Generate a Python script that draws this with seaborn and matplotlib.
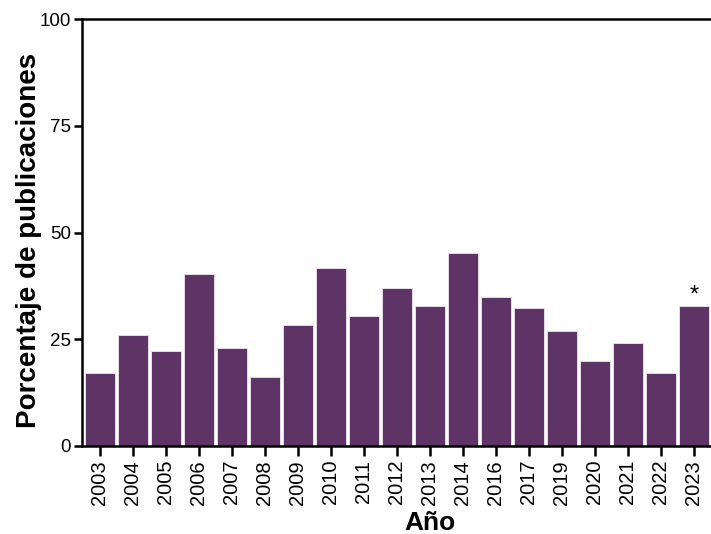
import numpy as np
import pandas as pd
import matplotlib
matplotlib.use('Agg')
import matplotlib.pyplot as plt
import seaborn as sns

years = ['2003', '2004', '2005', '2006', '2007', '2008', '2009', '2010', '2011', '2012',
         '2013', '2014', '2016', '2017', '2019', '2020', '2021', '2022', '2023']
pct = [17.1, 26.1, 22.3, 40.2, 23.0, 16.1, 28.3, 41.6, 30.5, 36.9,
       32.9, 45.2, 34.9, 32.3, 26.9, 19.8, 24.1, 17.0, 32.9]
star_year = '2023'

df = pd.DataFrame({'year': years, 'pct': pct})

sns.set_style('ticks')
plt.rcParams['font.family'] = ['Liberation Sans', 'DejaVu Sans']
plt.rcParams['text.color'] = 'black'
plt.rcParams['axes.labelcolor'] = 'black'
plt.rcParams['xtick.color'] = 'black'
plt.rcParams['ytick.color'] = 'black'

fig = plt.figure(figsize=(7.11, 5.34), dpi=100)
# the original is cropped on the right, so the axes runs past the edge
ax = fig.add_axes([0.1153, 0.1648, 0.8847, 0.7996])

sns.barplot(data=df, x='year', y='pct', color='#5e3467', saturation=1,
            width=0.9, edgecolor='#efe6f0', linewidth=0.6, errorbar=None, ax=ax)

# asterisk over the last bar
i = years.index(star_year)
ax.text(i, pct[i] - 0.3, '*', ha='center', va='bottom', fontsize=17, color='black')

ax.set_ylim(0, 100)
ax.set_xlim(-0.545, 18.52)
ax.set_yticks([0, 25, 50, 75, 100])
ax.set_xlabel('Año', fontsize=19, fontweight='bold')
ax.set_ylabel('Porcentaje de publicaciones', fontsize=20, fontweight='bold')
ax.xaxis.set_label_coords(0.553, -0.152)
ax.yaxis.set_label_coords(-0.063, 0.482)

for s in ['left', 'bottom', 'top']:
    ax.spines[s].set_linewidth(1.8)
    ax.spines[s].set_color('black')
ax.spines['right'].set_visible(False)
ax.tick_params(axis='y', width=1.8, length=6, labelsize=13.5, pad=2)
ax.tick_params(axis='x', width=1.8, length=7, labelsize=14.5, pad=3, rotation=90)

fig.savefig('out.png', dpi=100)
